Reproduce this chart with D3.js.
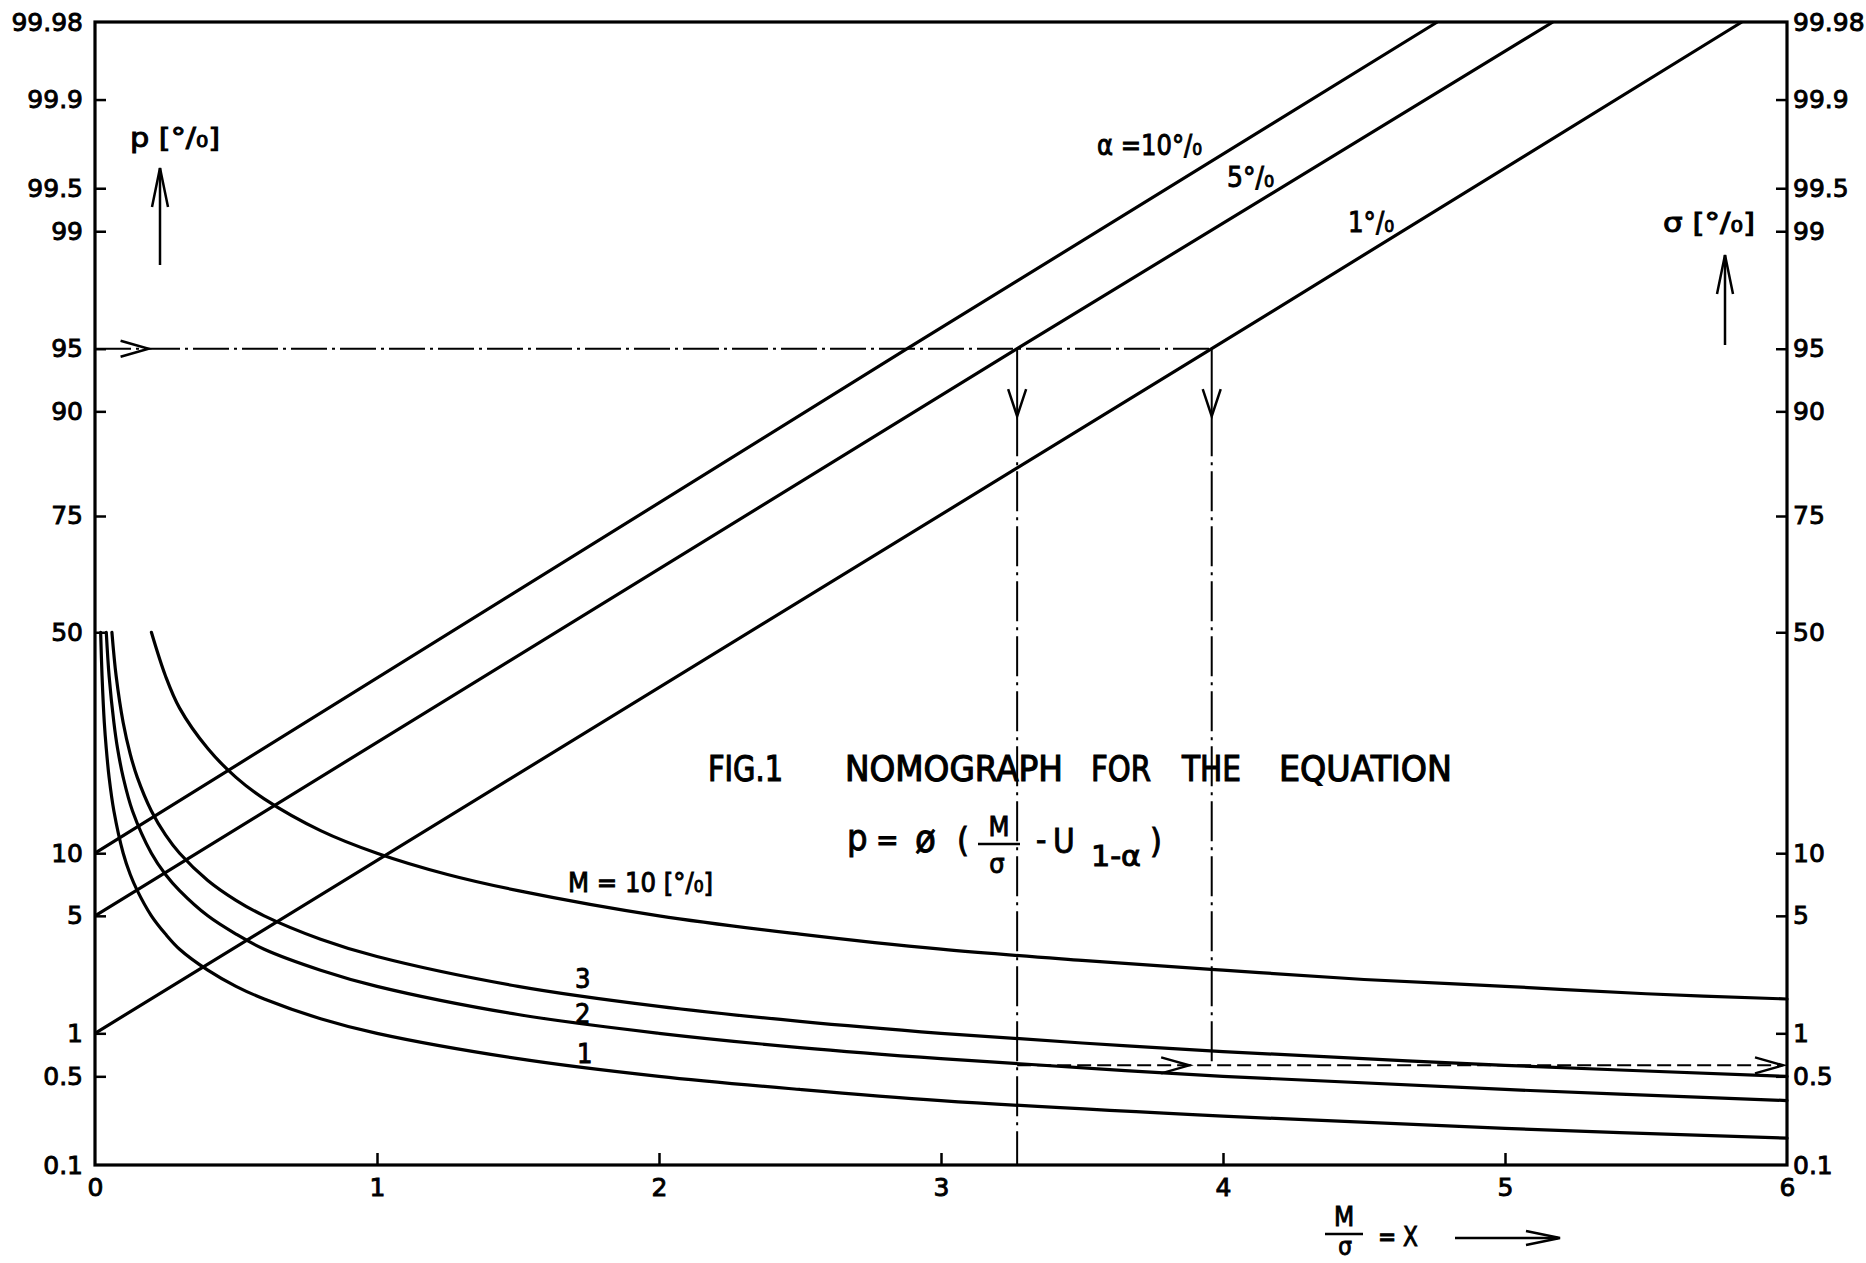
<!DOCTYPE html>
<html>
<head>
<meta charset="utf-8">
<script src="https://cdn.jsdelivr.net/npm/d3@7"></script>
<style>
  body { margin: 0; background: #fff; }
  svg { display: block; }
</style>
</head>
<body>
<div id="chart"></div>
<script>
// tick values / labels (p and sigma axes share the same probability scale)
const pTicks = [99.98, 99.9, 99.5, 99, 95, 90, 75, 50, 10, 5, 1, 0.5, 0.1];
const pTickLabels = ["99.98", "99.9", "99.5", "99", "95", "90", "75", "50", "10", "5", "1", "0.5", "0.1"];
const xTicks = [0, 1, 2, 3, 4, 5, 6];

// alpha lines  (x = M/sigma, p in %)
const alphaNames = ["α =10°/₀", "5°/₀", "1°/₀"];
const alpha10X = [0, 2.88, 4.76];
const alpha10P = [10, 95, 99.98];
const alpha5X = [0, 3.27, 5.17];
const alpha5P = [5, 95, 99.98];
const alpha1X = [0, 3.96, 5.84];
const alpha1P = [1, 95, 99.98];

// M curves (x = M/sigma, sigma in %)
const curveNames = ["M = 10 [°/₀]", "3", "2", "1"];
const m10X = [0.2, 0.25, 0.3, 0.4, 0.5, 0.6, 0.8, 1, 1.25, 1.5, 2, 2.5, 3, 3.5, 4, 4.5, 5, 5.5, 6];
const m10S = [50, 40, 33, 25, 20, 16.7, 12.5, 10, 8, 6.7, 5, 4, 3.3, 2.85, 2.5, 2.2, 2, 1.8, 1.67];
const m3X = [0.06, 0.075, 0.1, 0.125, 0.15, 0.2, 0.25, 0.3, 0.4, 0.5, 0.6, 0.8, 1, 1.5, 2, 2.5, 3, 3.5, 4, 5, 6];
const m3S = [50, 40, 30, 24, 20, 15, 12, 10, 7.5, 6, 5, 3.75, 3, 2, 1.5, 1.2, 1, 0.86, 0.75, 0.6, 0.5];
const m2X = [0.04, 0.05, 0.067, 0.08, 0.1, 0.133, 0.2, 0.25, 0.3, 0.4, 0.5, 0.6, 0.8, 1, 1.5, 2, 2.5, 3, 4, 5, 6];
const m2S = [50, 40, 30, 25, 20, 15, 10, 8, 6.7, 5, 4, 3.3, 2.5, 2, 1.33, 1, 0.8, 0.67, 0.5, 0.4, 0.33];
const m1X = [0.02, 0.025, 0.033, 0.04, 0.05, 0.067, 0.1, 0.125, 0.15, 0.2, 0.25, 0.3, 0.4, 0.5, 0.6, 0.8, 1, 1.5, 2, 2.5, 3, 4, 5, 6];
const m1S = [50, 40, 30, 25, 20, 15, 10, 8, 6.7, 5, 4, 3.3, 2.5, 2, 1.67, 1.25, 1, 0.67, 0.5, 0.4, 0.33, 0.25, 0.2, 0.167];

// worked example
const readP = 95;
const readX = [3.27, 3.96];
const readSigma = 0.6;

// inverse normal cdf (Acklam) - used only as the axis transform
function probit(p) {
    const a = [-3.969683028665376e+01, 2.209460984245205e+02, -2.759285104469687e+02, 1.383577518672690e+02, -3.066479806614716e+01, 2.506628277459239e+00];
    const b = [-5.447609879822406e+01, 1.615858368580409e+02, -1.556989798598866e+02, 6.680131188771972e+01, -1.328068155288572e+01];
    const c = [-7.784894002430293e-03, -3.223964580411365e-01, -2.400758277161838e+00, -2.549732539343734e+00, 4.374664141464968e+00, 2.938163982698783e+00];
    const d = [7.784695709041462e-03, 3.224671290700398e-01, 2.445134137142996e+00, 3.754408661907416e+00];
    const plow = 0.02425;
    let q, r;
    if (p < plow) {
        q = Math.sqrt(-2 * Math.log(p));
        return (((((c[0] * q + c[1]) * q + c[2]) * q + c[3]) * q + c[4]) * q + c[5]) / ((((d[0] * q + d[1]) * q + d[2]) * q + d[3]) * q + 1);
    }
    if (p > 1 - plow) {
        q = Math.sqrt(-2 * Math.log(1 - p));
        return -(((((c[0] * q + c[1]) * q + c[2]) * q + c[3]) * q + c[4]) * q + c[5]) / ((((d[0] * q + d[1]) * q + d[2]) * q + d[3]) * q + 1);
    }
    q = p - 0.5; r = q * q;
    return (((((a[0] * r + a[1]) * r + a[2]) * r + a[3]) * r + a[4]) * r + a[5]) * q / (((((b[0] * r + b[1]) * r + b[2]) * r + b[3]) * r + b[4]) * r + 1);
}

const W = 1866, H = 1263;
const plotL = 95, plotR = 1787, plotT = 22, plotB = 1165;

const svg = d3.select("#chart").append("svg")
    .attr("width", W).attr("height", H)
    .style("background", "#fff");

const x = d3.scaleLinear().domain([0, 6]).range([plotL, plotR]);
const zs = d3.scaleLinear().domain([probit(0.001), probit(0.9998)]).range([plotB, plotT]);
const y = v => zs(probit(v / 100));

const TICKFONT = "DejaVu Sans, Liberation Sans, sans-serif";
const ANNFONT = "DejaVu Sans Condensed, DejaVu Sans, sans-serif";

function styleAxis(g) {
    g.select(".domain").remove();
    g.attr("font-family", null).attr("font-size", null);
    g.selectAll(".tick line").attr("stroke", "#000").attr("stroke-width", 2.5);
    g.selectAll(".tick text")
        .attr("font-family", TICKFONT)
        .attr("font-size", 25)
        .attr("fill", "#000")
        .attr("stroke", "#000")
        .attr("stroke-width", 0.9);
}

// left p axis
svg.append("g")
    .attr("transform", "translate(" + plotL + ",0)")
    .call(d3.axisLeft(zs)
        .tickValues(pTicks.map(v => probit(v / 100)))
        .tickFormat((d, i) => pTickLabels[i])
        .tickSize(-11).tickPadding(12))
    .call(styleAxis)
    .call(g => g.selectAll(".tick line")
        .filter((d, i) => i === 0 || i === pTicks.length - 1).remove());

// right sigma axis
svg.append("g")
    .attr("transform", "translate(" + plotR + ",0)")
    .call(d3.axisRight(zs)
        .tickValues(pTicks.map(v => probit(v / 100)))
        .tickFormat((d, i) => pTickLabels[i])
        .tickSize(-11).tickPadding(6))
    .call(styleAxis)
    .call(g => g.selectAll(".tick line")
        .filter((d, i) => i === 0 || i === pTicks.length - 1).remove());

// bottom x axis
svg.append("g")
    .attr("transform", "translate(0," + plotB + ")")
    .call(d3.axisBottom(x).tickValues(xTicks).tickFormat(d3.format("d"))
        .tickSize(-12).tickPadding(13))
    .call(styleAxis)
    .call(g => g.selectAll(".tick line")
        .filter((d, i) => i === 0 || i === xTicks.length - 1).remove());

// frame
svg.append("rect")
    .attr("x", plotL).attr("y", plotT)
    .attr("width", plotR - plotL).attr("height", plotB - plotT)
    .attr("fill", "none").attr("stroke", "#000").attr("stroke-width", 3.2);

// alpha lines
const line = d3.line().x(d => x(d[0])).y(d => y(d[1]));
const alphaSeries = [
    d3.zip(alpha10X, alpha10P),
    d3.zip(alpha5X, alpha5P),
    d3.zip(alpha1X, alpha1P)
];
svg.append("g").selectAll("path")
    .data(alphaSeries)
    .join("path")
    .attr("d", line)
    .attr("fill", "none")
    .attr("stroke", "#000")
    .attr("stroke-width", 3.2);

// M curves
const curve = d3.line().x(d => x(d[0])).y(d => y(d[1])).curve(d3.curveCatmullRom.alpha(0.5));
const mSeries = [
    d3.zip(m10X, m10S),
    d3.zip(m3X, m3S),
    d3.zip(m2X, m2S),
    d3.zip(m1X, m1S)
];
svg.append("g").selectAll("path")
    .data(mSeries)
    .join("path")
    .attr("d", curve)
    .attr("fill", "none")
    .attr("stroke", "#000")
    .attr("stroke-width", 3.2)
    .attr("stroke-linecap", "round");

// guide lines of the example
const guides = svg.append("g").attr("stroke", "#000").attr("fill", "none").attr("stroke-width", 2);
const dashDot = "36,5,3,5";

guides.append("line")
    .attr("x1", x(0)).attr("x2", x(readX[1]))
    .attr("y1", y(readP)).attr("y2", y(readP))
    .attr("stroke-dasharray", dashDot);

const arrowTipP = 89.5;
readX.forEach((rx, i) => {
    const yEnd = i === 0 ? y(0.1) : y(readSigma);
    guides.append("line")
        .attr("x1", x(rx)).attr("x2", x(rx))
        .attr("y1", y(readP)).attr("y2", y(arrowTipP));
    guides.append("line")
        .attr("x1", x(rx)).attr("x2", x(rx))
        .attr("y1", y(arrowTipP)).attr("y2", yEnd)
        .attr("stroke-dasharray", "40,6,3,6");
    // down arrow head
    const ty = y(arrowTipP);
    guides.append("path")
        .attr("d", "M" + (x(rx) - 9) + "," + (ty - 27) + "L" + x(rx) + "," + ty + "L" + (x(rx) + 9) + "," + (ty - 27))
        .attr("stroke-width", 2.5);
});

guides.append("line")
    .attr("x1", x(readX[0])).attr("x2", x(6) - 4)
    .attr("y1", y(readSigma)).attr("y2", y(readSigma))
    .attr("stroke-dasharray", "14,6");

// right-pointing open arrow heads
function rArrow(px, py) {
    guides.append("path")
        .attr("d", "M" + (px - 28) + "," + (py - 8) + "L" + px + "," + py + "L" + (px - 28) + "," + (py + 8))
        .attr("stroke-width", 2.5);
}
rArrow(x(0.19), y(readP));
rArrow(x(3.88), y(readSigma));
rArrow(x(6) - 4, y(readSigma));

// annotations
function label(txt, px, py, size, opts = {}) {
    const t = svg.append("text")
        .attr("x", px).attr("y", py)
        .attr("font-family", opts.family || ANNFONT)
        .attr("font-size", size)
        .attr("fill", "#000")
        .attr("stroke", "#000")
        .attr("stroke-width", opts.sw || 0.9)
        .attr("text-anchor", opts.anchor || "start")
        .text(txt);
    if (opts.len) t.attr("textLength", opts.len).attr("lengthAdjust", "spacingAndGlyphs");
    return t;
}

// alpha labels
label(alphaNames[0], 1097, 155, 28, { len: 105 });
label(alphaNames[1], 1227, 187, 28, { len: 47 });
label(alphaNames[2], 1348, 232, 28, { len: 46 });

// M labels
label(curveNames[0], 568, 892, 27, { len: 145 });
label(curveNames[1], 575, 988, 27);
label(curveNames[2], 575, 1023, 27);
label(curveNames[3], 577, 1063, 27);

// axis titles with arrows
label("p [°/₀]", 130, 147, 27, { len: 90 });
label("σ [°/₀]", 1663, 232, 27, { len: 92 });

function upArrow(px, yTip, yTail) {
    svg.append("line")
        .attr("x1", px).attr("x2", px).attr("y1", yTip).attr("y2", yTail)
        .attr("stroke", "#000").attr("stroke-width", 2.5);
    svg.append("path")
        .attr("d", "M" + (px - 8) + "," + (yTip + 39) + "L" + px + "," + yTip + "L" + (px + 8) + "," + (yTip + 39))
        .attr("fill", "none").attr("stroke", "#000").attr("stroke-width", 2.5);
}
upArrow(160, 168, 265);
upArrow(1725, 255, 345);

// title
const titleWords = [["FIG.1", 708, 75], ["NOMOGRAPH", 845, 218], ["FOR", 1091, 60], ["THE", 1182, 59], ["EQUATION", 1279, 173]];
titleWords.forEach(w => label(w[0], w[1], 781, 35, { len: w[2], sw: 1.1 }));

// equation  p = ø( M/σ - U1-α )
label("p", 847, 850, 36);
label("=", 876, 850, 30);
label("ø", 915, 852, 38);
label("(", 957, 852, 34);
label("M", 999, 836, 27, { anchor: "middle" });
svg.append("line").attr("x1", 978).attr("x2", 1020).attr("y1", 844).attr("y2", 844)
    .attr("stroke", "#000").attr("stroke-width", 2.5);
label("σ", 997, 873, 27, { anchor: "middle" });
label("-", 1036, 851, 32);
label("U", 1053, 853, 33);
label("1-α", 1091, 866, 28, { len: 50 });
label(")", 1150, 853, 34);

// x axis title  M/σ = X  -->
label("M", 1344, 1226, 26, { anchor: "middle" });
svg.append("line").attr("x1", 1325).attr("x2", 1363).attr("y1", 1234).attr("y2", 1234)
    .attr("stroke", "#000").attr("stroke-width", 2.5);
label("σ", 1345, 1255, 24, { anchor: "middle" });
label("= X", 1378, 1246, 27, { len: 40 });
svg.append("line").attr("x1", 1455).attr("x2", 1558).attr("y1", 1238).attr("y2", 1238)
    .attr("stroke", "#000").attr("stroke-width", 2.5);
svg.append("path")
    .attr("d", "M1526,1231L1560,1238L1526,1245")
    .attr("fill", "none").attr("stroke", "#000").attr("stroke-width", 2.5);
</script>
</body>
</html>
